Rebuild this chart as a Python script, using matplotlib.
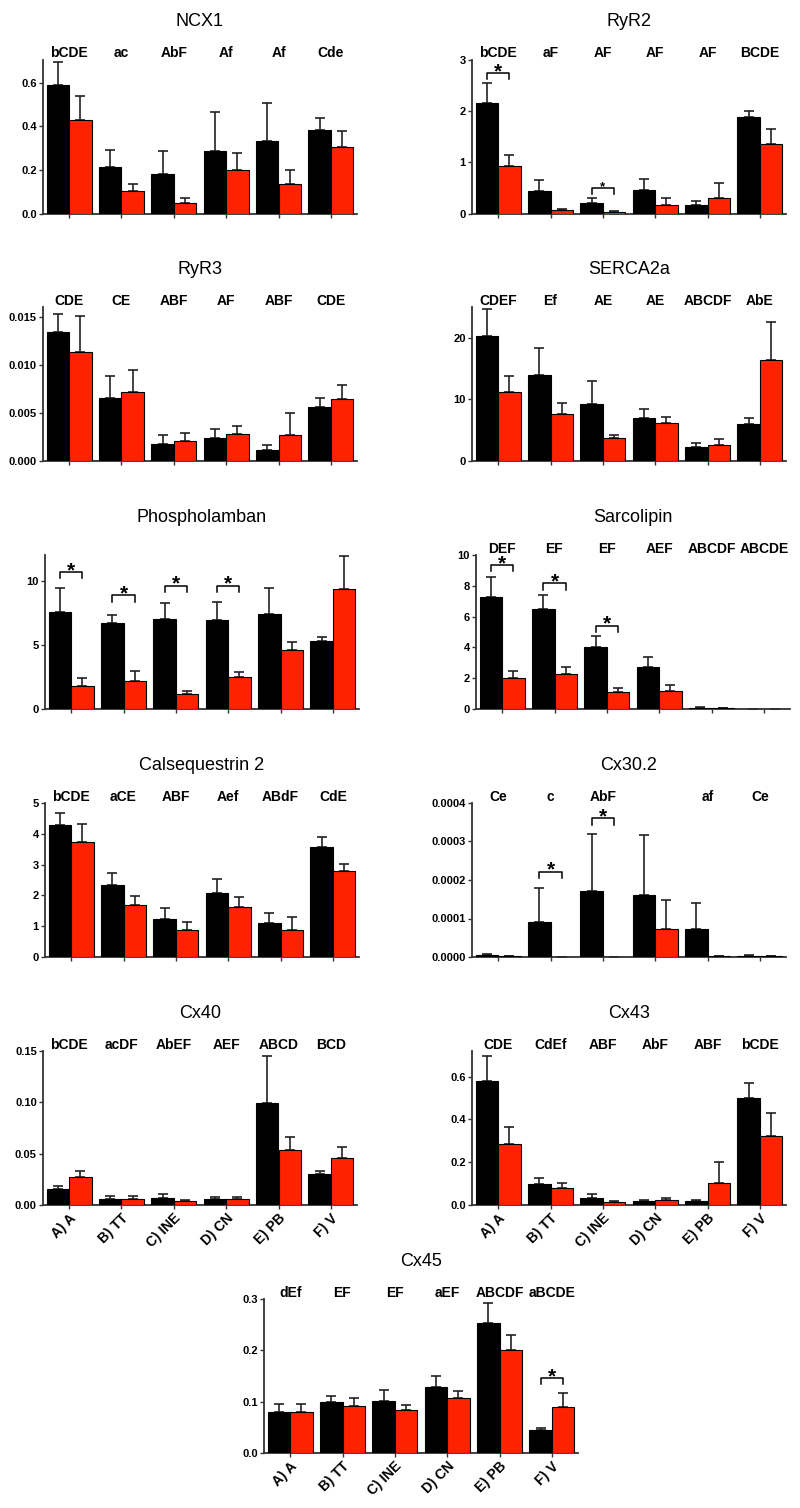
import numpy as np
import matplotlib
matplotlib.use('Agg')
import matplotlib.pyplot as plt
from matplotlib.ticker import FormatStrFormatter

plt.rcParams['font.family'] = ['Liberation Sans', 'DejaVu Sans']

# tissue regions (x axis)
regions = ['A) A', 'B) TT', 'C) INE', 'D) CN', 'E) PB', 'F) V']

# NCX1
ncx1_black = [0.588, 0.212, 0.18, 0.285, 0.331, 0.383]
ncx1_black_sem = [0.107, 0.08, 0.108, 0.181, 0.177, 0.054]
ncx1_red = [0.428, 0.105, 0.048, 0.2, 0.134, 0.306]
ncx1_red_sem = [0.11, 0.03, 0.024, 0.077, 0.066, 0.071]
ncx1_letters = ['bCDE', 'ac', 'AbF', 'Af', 'Af', 'Cde']

# RyR2
ryr2_black = [2.16, 0.435, 0.2, 0.45, 0.17, 1.88]
ryr2_black_sem = [0.385, 0.215, 0.1, 0.22, 0.077, 0.12]
ryr2_red = [0.935, 0.07, 0.03, 0.175, 0.31, 1.36]
ryr2_red_sem = [0.195, 0.02, 0.01, 0.13, 0.29, 0.28]
ryr2_letters = ['bCDE', 'aF', 'AF', 'AF', 'AF', 'BCDE']
ryr2_sig = [(0, 2.74, 'big'), (2, 0.5, 'small')]

# RyR3
ryr3_black = [0.0134, 0.00653, 0.0018, 0.00236, 0.00111, 0.00566]
ryr3_black_sem = [0.00184, 0.00229, 0.00087, 0.00101, 0.00052, 0.00087]
ryr3_red = [0.01135, 0.00722, 0.00212, 0.00278, 0.00274, 0.00642]
ryr3_red_sem = [0.00368, 0.00226, 0.00076, 0.00087, 0.00223, 0.00146]
ryr3_letters = ['CDE', 'CE', 'ABF', 'AF', 'ABF', 'CDE']

# SERCA2a
serca_black = [20.27, 14.0, 9.32, 6.98, 2.34, 6.05]
serca_black_sem = [4.33, 4.37, 3.65, 1.52, 0.66, 0.87]
serca_red = [11.28, 7.68, 3.76, 6.16, 2.56, 16.46]
serca_red_sem = [2.45, 1.69, 0.49, 1.03, 1.04, 6.04]
serca_letters = ['CDEF', 'Ef', 'AE', 'AE', 'ABCDF', 'AbE']

# Phospholamban
pln_black = [7.55, 6.67, 6.98, 6.9, 7.42, 5.31]
pln_black_sem = [1.88, 0.65, 1.3, 1.41, 2.03, 0.29]
pln_red = [1.82, 2.19, 1.17, 2.53, 4.61, 9.32]
pln_red_sem = [0.6, 0.75, 0.26, 0.36, 0.62, 2.63]
pln_letters = ['', '', '', '', '', '']
pln_sig = [(0, 10.65, 'big'), (1, 8.85, 'big'), (2, 9.61, 'big'), (3, 9.61, 'big')]

# Sarcolipin
sln_black = [7.28, 6.47, 4.03, 2.72, 0.09, 0.005]
sln_black_sem = [1.28, 0.92, 0.72, 0.66, 0.04, 0.0]
sln_red = [2.03, 2.27, 1.13, 1.18, 0.04, 0.02]
sln_red_sem = [0.45, 0.48, 0.26, 0.37, 0.01, 0.0]
sln_letters = ['DEF', 'EF', 'EF', 'AEF', 'ABCDF', 'ABCDE']
sln_sig = [(0, 9.35, 'big'), (1, 8.15, 'big'), (2, 5.42, 'big')]

# Calsequestrin 2
casq_black = [4.29, 2.35, 1.22, 2.08, 1.09, 3.57]
casq_black_sem = [0.39, 0.37, 0.37, 0.44, 0.35, 0.32]
casq_red = [3.74, 1.69, 0.87, 1.61, 0.88, 2.79]
casq_red_sem = [0.59, 0.3, 0.26, 0.34, 0.43, 0.24]
casq_letters = ['bCDE', 'aCE', 'ABF', 'Aef', 'ABdF', 'CdE']

# Cx30.2
cx30_black = [0.0000043, 0.0000922, 0.000172, 0.000161, 0.0000722, 0.0000035]
cx30_black_sem = [0.0000044, 0.0000858, 0.000147, 0.000156, 0.0000678, 0.0000008]
cx30_red = [0.0000026, 0.0, 0.000001, 0.0000739, 0.0000035, 0.0000026]
cx30_red_sem = [0.000001, 0.0, 0.0, 0.0000731, 0.0, 0.000001]
cx30_letters = ['Ce', 'c', 'AbF', '', 'af', 'Ce']
cx30_sig = [(1, 0.000222, 'big'), (2, 0.00036, 'big')]

# Cx40
cx40_black = [0.0156, 0.0062, 0.0068, 0.0055, 0.0989, 0.0299]
cx40_black_sem = [0.0029, 0.0029, 0.0036, 0.0023, 0.0459, 0.003]
cx40_red = [0.027, 0.0062, 0.0039, 0.0059, 0.0537, 0.0456]
cx40_red_sem = [0.0065, 0.0023, 0.001, 0.0022, 0.0123, 0.011]
cx40_letters = ['bCDE', 'acDF', 'AbEF', 'AEF', 'ABCD', 'BCD']

# Cx43
cx43_black = [0.578, 0.1, 0.033, 0.017, 0.017, 0.498]
cx43_black_sem = [0.118, 0.026, 0.018, 0.008, 0.006, 0.073]
cx43_red = [0.287, 0.081, 0.0155, 0.025, 0.104, 0.322]
cx43_red_sem = [0.08, 0.023, 0.0045, 0.009, 0.099, 0.106]
cx43_letters = ['CDE', 'CdEf', 'ABF', 'AbF', 'ABF', 'bCDE']

# Cx45
cx45_black = [0.08, 0.1, 0.102, 0.128, 0.253, 0.0442]
cx45_black_sem = [0.0163, 0.012, 0.02, 0.022, 0.04, 0.0038]
cx45_red = [0.08, 0.0917, 0.084, 0.107, 0.2, 0.0898]
cx45_red_sem = [0.0156, 0.0163, 0.0103, 0.014, 0.03, 0.0262]
cx45_letters = ['dEf', 'EF', 'EF', 'aEF', 'ABCDF', 'aBCDE']
cx45_sig = [(5, 0.146, 'big')]

W, H = 800, 1508
fig = plt.figure(figsize=(W / 100, H / 100), dpi=100)

RED = '#ff2200'
bw = 0.43


def panel(left, top, title, black, black_sem, red, red_sem, letters,
          ymax, yticks, fmt, sig=(), xlabels=False):
    ax = fig.add_axes([left / W, 1 - (top + 154) / H, 314 / W, 154 / H])
    x = np.arange(len(regions))
    ax.bar(x - bw / 2, black, bw, color='black', edgecolor='black', lw=0.8, zorder=3)
    ax.bar(x + bw / 2, red, bw, color=RED, edgecolor='black', lw=0.8, zorder=3)
    for xs, v, s in [(x - bw / 2, black, black_sem), (x + bw / 2, red, red_sem)]:
        ax.errorbar(xs, v, yerr=[np.zeros(len(v)), s], fmt='none', ecolor='#222222',
                    elinewidth=1.2, capsize=3.6, capthick=1.2, zorder=2)
    ax.set_xlim(-0.5, 5.5)
    ax.set_ylim(0, ymax)
    ax.set_yticks(yticks)
    ax.yaxis.set_major_formatter(FormatStrFormatter(fmt))
    ax.set_xticks(x)
    ax.tick_params(axis='both', length=3, width=1.0, color='#333333', pad=1.5)
    ax.tick_params(axis='y', labelsize=8)
    if xlabels:
        ax.set_xticklabels(regions, rotation=45, ha='right', rotation_mode='anchor',
                           fontsize=10, fontweight='bold')
    else:
        ax.set_xticklabels([])
    for lab in ax.get_yticklabels():
        lab.set_fontweight('bold')
    for sp in ['top', 'right']:
        ax.spines[sp].set_visible(False)
    for sp in ['left', 'bottom']:
        ax.spines[sp].set_color('#333333')
        ax.spines[sp].set_linewidth(1.3)
    ax.text(2.5, 1.245, title, transform=ax.get_xaxis_transform(), ha='center',
            va='center', fontsize=13)
    for i, t in enumerate(letters):
        ax.text(i, 1.04, t, transform=ax.get_xaxis_transform(), ha='center',
                va='center', fontsize=10, fontweight='bold')
    leg = 0.04 * ymax
    for i, yb, size in sig:
        x0, x1 = i - bw / 2, i + bw / 2
        ax.plot([x0, x0, x1, x1], [yb - leg, yb, yb, yb - leg], color='black',
                lw=1.1, clip_on=False, zorder=4)
        fs = 15 if size == 'big' else 9.5
        ax.annotate('*', (i, yb), xytext=(0, -3 if size == 'big' else -1.5),
                    textcoords='offset points', ha='center', va='baseline',
                    fontsize=fs, fontweight='bold', annotation_clip=False)
    return ax


panel(43, 59.5, 'NCX1', ncx1_black, ncx1_black_sem, ncx1_red, ncx1_red_sem,
      ncx1_letters, 0.707, [0, 0.2, 0.4, 0.6], '%.1f')
panel(472, 59.5, 'RyR2', ryr2_black, ryr2_black_sem, ryr2_red, ryr2_red_sem,
      ryr2_letters, 3, [0, 1, 2, 3], '%d', ryr2_sig)
panel(43, 307, 'RyR3', ryr3_black, ryr3_black_sem, ryr3_red, ryr3_red_sem,
      ryr3_letters, 0.016, [0, 0.005, 0.010, 0.015], '%.3f')
panel(472, 307, 'SERCA2a', serca_black, serca_black_sem, serca_red, serca_red_sem,
      serca_letters, 25, [0, 10, 20], '%d')
panel(45, 555, 'Phospholamban', pln_black, pln_black_sem, pln_red, pln_red_sem,
      pln_letters, 12, [0, 5, 10], '%d', pln_sig)
panel(476, 555, 'Sarcolipin', sln_black, sln_black_sem, sln_red, sln_red_sem,
      sln_letters, 10, [0, 2, 4, 6, 8, 10], '%d', sln_sig)
panel(45, 803, 'Calsequestrin 2', casq_black, casq_black_sem, casq_red, casq_red_sem,
      casq_letters, 5, [0, 1, 2, 3, 4, 5], '%d')
panel(472, 803, 'Cx30.2', cx30_black, cx30_black_sem, cx30_red, cx30_red_sem,
      cx30_letters, 0.0004, [0, 0.0001, 0.0002, 0.0003, 0.0004], '%.4f', cx30_sig)
panel(43, 1051, 'Cx40', cx40_black, cx40_black_sem, cx40_red, cx40_red_sem,
      cx40_letters, 0.15, [0, 0.05, 0.10, 0.15], '%.2f', xlabels=True)
panel(472, 1051, 'Cx43', cx43_black, cx43_black_sem, cx43_red, cx43_red_sem,
      cx43_letters, 0.72, [0, 0.2, 0.4, 0.6], '%.1f', xlabels=True)
panel(264, 1299, 'Cx45', cx45_black, cx45_black_sem, cx45_red, cx45_red_sem,
      cx45_letters, 0.3, [0, 0.1, 0.2, 0.3], '%.1f', cx45_sig, xlabels=True)

fig.savefig('out.png', dpi=100, facecolor='white')
